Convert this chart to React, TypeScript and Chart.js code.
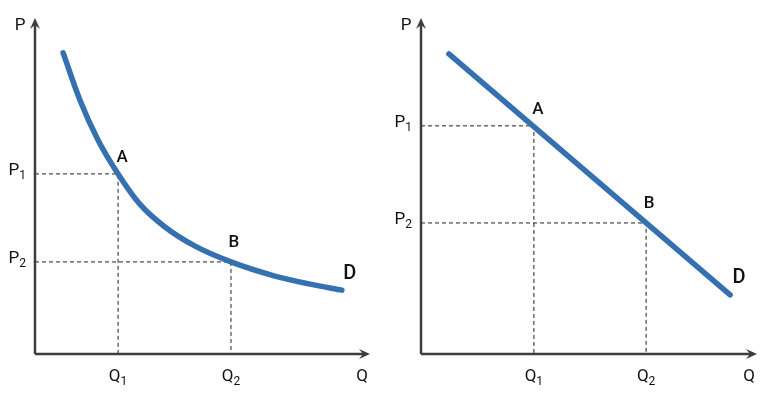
import React, { useEffect, useRef } from "react";
import { Chart, registerables } from "chart.js";

Chart.register(...registerables);

// Left panel: curved demand (units: axis 0..10)
const leftCurveX = [0.84, 1.34, 1.88, 2.48, 3.13, 3.88, 4.78, 5.85, 7.16, 8.21, 9.16];
const leftCurveY = [8.96, 7.56, 6.37, 5.36, 4.46, 3.78, 3.21, 2.74, 2.32, 2.08, 1.9];
const leftA = { q: 2.48, p: 5.36 };
const leftB = { q: 5.85, p: 2.74 };

// Right panel: linear demand
const rightLineX = [0.83, 9.2];
const rightLineY = [8.93, 1.76];
const rightA = { q: 3.36, p: 6.79 };
const rightB = { q: 6.7, p: 3.9 };

const pointLabels = ["A", "B"];
const priceLabels = ["P", "1", "2"];
const qtyLabels = ["Q", "1", "2"];
const curveLabel = "D";

const BLUE = "#3570b0";
const DARK = "#3d3d3d";
const FONT = "Roboto, 'DejaVu Sans', sans-serif";

type Pt = { q: number; p: number };

function makePlugin(A: Pt, B: Pt, dEnd: Pt, opts: { dDx: number; dDy: number }) {
  return {
    id: "econ",
    afterDatasetsDraw(chart: any) {
      const { ctx } = chart;
      const xs = chart.scales.x;
      const ys = chart.scales.y;
      const X = (v: number) => xs.getPixelForValue(v);
      const Y = (v: number) => ys.getPixelForValue(v);
      ctx.save();
      // axes
      ctx.strokeStyle = DARK;
      ctx.fillStyle = DARK;
      ctx.lineWidth = 2.5;
      const ox = X(0), oy = Y(0), top = Y(10), right = X(10);
      ctx.beginPath();
      ctx.moveTo(ox, oy);
      ctx.lineTo(ox, top + 4);
      ctx.moveTo(ox, oy);
      ctx.lineTo(right - 4, oy);
      ctx.stroke();
      // arrowheads
      ctx.beginPath();
      ctx.moveTo(ox, top);
      ctx.lineTo(ox - 5, top + 11);
      ctx.lineTo(ox, top + 7);
      ctx.lineTo(ox + 5, top + 11);
      ctx.closePath();
      ctx.fill();
      ctx.beginPath();
      ctx.moveTo(right, oy);
      ctx.lineTo(right - 11, oy - 5);
      ctx.lineTo(right - 7, oy);
      ctx.lineTo(right - 11, oy + 5);
      ctx.closePath();
      ctx.fill();

      ctx.fillStyle = "#111";
      ctx.textBaseline = "middle";
      const sub = (main: string, s: string, x: number, y: number, align: string) => {
        ctx.font = `17px ${FONT}`;
        const w1 = ctx.measureText(main).width;
        ctx.font = `12px ${FONT}`;
        const w2 = ctx.measureText(s).width;
        const total = w1 + w2;
        let sx = x;
        if (align === "center") sx = x - total / 2;
        if (align === "right") sx = x - total;
        ctx.textAlign = "left";
        ctx.font = `17px ${FONT}`;
        ctx.fillText(main, sx, y);
        ctx.font = `12px ${FONT}`;
        ctx.fillText(s, sx + w1, y + 5);
      };
      // axis names
      ctx.font = `17px ${FONT}`;
      ctx.textAlign = "center";
      ctx.fillText(priceLabels[0], ox - 15, top + 8);
      ctx.fillText(qtyLabels[0], right - 8, oy + 23);
      // P1, P2
      sub(priceLabels[0], priceLabels[1], ox - 9, Y(A.p) - 3, "right");
      sub(priceLabels[0], priceLabels[2], ox - 9, Y(B.p) - 3, "right");
      // Q1, Q2
      sub(qtyLabels[0], qtyLabels[1], X(A.q), oy + 23, "center");
      sub(qtyLabels[0], qtyLabels[2], X(B.q), oy + 23, "center");
      // A, B
      ctx.font = `500 17px ${FONT}`;
      ctx.textAlign = "center";
      ctx.fillText(pointLabels[0], X(A.q) + 4, Y(A.p) - 16);
      ctx.fillText(pointLabels[1], X(B.q) + 3, Y(B.p) - 19);
      ctx.font = `500 20px ${FONT}`;
      ctx.fillText(curveLabel, X(dEnd.q) + opts.dDx, Y(dEnd.p) + opts.dDy);
      ctx.restore();
    },
  };
}

function buildDatasets(xs: number[], ys: number[], A: Pt, B: Pt, curved: boolean) {
  const dash = (pt: Pt) => ({
    data: [
      { x: 0, y: pt.p },
      { x: pt.q, y: pt.p },
      { x: pt.q, y: 0 },
    ],
    borderColor: "#222",
    borderWidth: 1,
    borderDash: [4, 3],
    pointRadius: 0,
    tension: 0,
    clip: false as any,
    order: 2,
  });
  return [
    dash(A),
    dash(B),
    {
      data: xs.map((x, i) => ({ x, y: ys[i] })),
      borderColor: BLUE,
      borderWidth: 5.5,
      borderCapStyle: "round" as const,
      borderJoinStyle: "round" as const,
      pointRadius: 0,
      cubicInterpolationMode: curved ? ("monotone" as const) : ("default" as const),
      tension: curved ? 0.4 : 0,
      clip: false as any,
      order: 1,
    },
  ];
}

function Panel(props: {
  left: number;
  padding: { left: number; right: number; top: number; bottom: number };
  xs: number[];
  ys: number[];
  A: Pt;
  B: Pt;
  curved: boolean;
  dDx: number;
  dDy: number;
}) {
  const ref = useRef<HTMLCanvasElement>(null);
  useEffect(() => {
    if (!ref.current) return;
    const n = props.xs.length - 1;
    const chart = new Chart(ref.current, {
      type: "line",
      data: { datasets: buildDatasets(props.xs, props.ys, props.A, props.B, props.curved) as any },
      options: {
        animation: false,
        responsive: false,
        maintainAspectRatio: false,
        layout: { padding: props.padding },
        plugins: { legend: { display: false }, tooltip: { enabled: false } },
        scales: {
          x: { type: "linear", min: 0, max: 10, display: false },
          y: { type: "linear", min: 0, max: 10, display: false },
        },
      },
      plugins: [makePlugin(props.A, props.B, { q: props.xs[n], p: props.ys[n] }, { dDx: props.dDx, dDy: props.dDy })],
    });
    return () => chart.destroy();
  }, []);
  return (
    <canvas
      ref={ref}
      width={390}
      height={400}
      style={{ position: "absolute", left: props.left, top: 0, width: 390, height: 400 }}
    />
  );
}

export default function App() {
  return (
    <div style={{ position: "fixed", left: 0, top: 0, width: 780, height: 400, background: "#fff" }}>
      <Panel
        left={0}
        padding={{ left: 35, right: 20, top: 18, bottom: 46 }}
        xs={leftCurveX}
        ys={leftCurveY}
        A={leftA}
        B={leftB}
        curved={true}
        dDx={8}
        dDy={-16}
      />
      <Panel
        left={390}
        padding={{ left: 31, right: 23, top: 18, bottom: 46 }}
        xs={rightLineX}
        ys={rightLineY}
        A={rightA}
        B={rightB}
        curved={false}
        dDx={9}
        dDy={-17}
      />
    </div>
  );
}
